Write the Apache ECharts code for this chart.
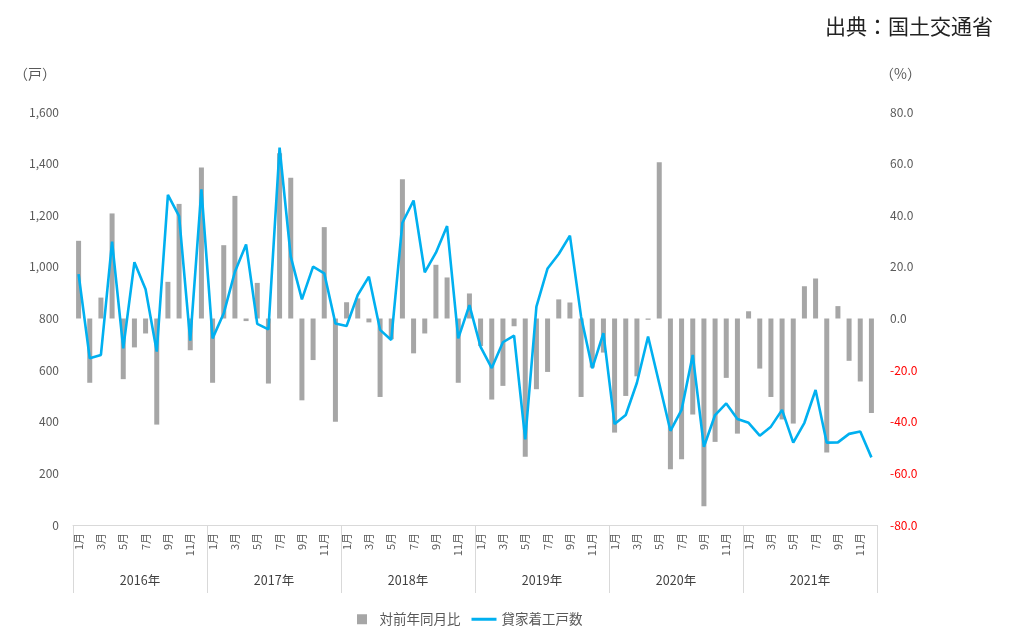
<!DOCTYPE html>
<html>
<head>
<meta charset="utf-8">
<script src="https://cdn.jsdelivr.net/npm/echarts@6/dist/echarts.min.js"></script>
<style>
html,body{margin:0;padding:0;background:#fff;}
#chart{width:1024px;height:636px;}
</style>
</head>
<body>
<div id="chart"></div>
<script>
var years = ['2016年','2017年','2018年','2019年','2020年','2021年'];
var monthNames = ['1月','2月','3月','4月','5月','6月','7月','8月','9月','10月','11月','12月'];

// 対前年同月比 (%)
var yoy2016 = [30.1, -24.9, 8.1, 40.7, -23.5, -11.2, -5.8, -41.1, 14.2, 44.4, -12.3, 58.5];
var yoy2017 = [-24.9, 28.4, 47.5, -1.0, 13.8, -25.2, 64.0, 54.5, -31.7, -16.1, 35.4, -40.0];
var yoy2018 = [6.3, 7.8, -1.5, -30.4, -8.0, 53.9, -13.5, -5.8, 20.8, 15.9, -24.9, 9.7];
var yoy2019 = [-10.7, -31.4, -26.1, -3.0, -53.6, -27.4, -20.7, 7.4, 6.2, -30.4, -19.0, -13.2];
var yoy2020 = [-44.2, -30.0, -22.4, -0.5, 60.5, -58.4, -54.5, -37.2, -72.7, -47.8, -23.0, -44.6];
var yoy2021 = [2.8, -19.4, -30.4, -39.1, -40.7, 12.5, 15.5, -51.9, 4.8, -16.4, -24.4, -36.6];

// 貸家着工戸数 (戸)
var units2016 = [972, 646, 659, 1098, 684, 1018, 913, 672, 1279, 1197, 714, 1300];
var units2017 = [723, 820, 981, 1087, 779, 758, 1462, 1040, 874, 1001, 975, 781];
var units2018 = [771, 891, 962, 756, 717, 1171, 1257, 979, 1055, 1158, 723, 852];
var units2019 = [690, 608, 708, 734, 332, 846, 994, 1050, 1121, 807, 607, 743];
var units2020 = [391, 426, 551, 730, 548, 365, 446, 659, 303, 426, 471, 411];
var units2021 = [396, 346, 381, 446, 319, 396, 523, 319, 320, 353, 362, 262];

var leftTicks = {min: 0, max: 1600, interval: 200};
var rightTicks = {min: -80, max: 80, interval: 20};

var categories = [];
years.forEach(function(y){ monthNames.forEach(function(m){ categories.push(y + m); }); });
var monthLabels = [];
years.forEach(function(){ monthNames.forEach(function(m){ monthLabels.push(m); }); });
var yoyData = [].concat(yoy2016, yoy2017, yoy2018, yoy2019, yoy2020, yoy2021);
var unitsData = [].concat(units2016, units2017, units2018, units2019, units2020, units2021);

var chart = echarts.init(document.getElementById('chart'));
var font = '"Noto Sans CJK JP", "Noto Sans", sans-serif';
chart.setOption({
  animation: false,
  textStyle: {fontFamily: font},
  title: {
    text: '出典：国土交通省',
    right: 26, top: 11,
    textStyle: {fontSize: 21, fontWeight: 'normal', color: '#222', fontFamily: font}
  },
  graphic: [
    {type: 'text', left: 14, top: 67, style: {text: '（戸）', fontSize: 14, fill: '#595959', fontFamily: font}},
    {type: 'text', left: 880, top: 67, style: {text: '（%）', fontSize: 14, fill: '#595959', fontFamily: font}}
  ],
  legend: {
    bottom: 5,
    left: 352,
    itemWidth: 25,
    itemHeight: 10,
    itemGap: 11,
    textStyle: {fontSize: 13.5, color: '#595959', fontFamily: font},
    data: [
      {name: '対前年同月比', icon: 'path://M0,0H10V10H0Z'},
      {name: '貸家着工戸数', icon: 'path://M0,0H25V3H0Z'}
    ]
  },
  grid: {left: 73, right: 147, top: 112, bottom: 111},
  xAxis: [
    {
      type: 'category',
      data: categories,
      position: 'bottom',
      boundaryGap: true,
      axisLine: {show: true, lineStyle: {color: '#d9d9d9', width: 1}},
      axisTick: {
        show: true,
        inside: false,
        length: 68,
        interval: function(i){ return i % 12 === 0; },
        lineStyle: {color: '#d9d9d9', width: 1}
      },
      axisLabel: {
        interval: 1,
        rotate: 90,
        margin: 8,
        fontSize: 11,
        color: '#595959',
        fontFamily: font,
        formatter: function(v, i){ return monthLabels[i]; }
      }
    },
    {
      type: 'category',
      data: years,
      position: 'bottom',
      boundaryGap: true,
      axisLine: {show: false},
      axisTick: {show: false},
      splitLine: {show: false},
      axisLabel: {margin: 49, fontSize: 12.5, color: '#404040', fontFamily: font}
    }
  ],
  yAxis: [
    {
      type: 'value',
      min: leftTicks.min, max: leftTicks.max, interval: leftTicks.interval,
      position: 'left',
      axisLine: {show: false},
      axisTick: {show: false},
      splitLine: {show: false},
      axisLabel: {
        margin: 14, fontSize: 12, color: '#595959', fontFamily: font,
        formatter: function(v){ return v.toLocaleString('en-US'); }
      }
    },
    {
      type: 'value',
      min: rightTicks.min, max: rightTicks.max, interval: rightTicks.interval,
      position: 'right',
      axisLine: {show: false},
      axisTick: {show: false},
      splitLine: {show: false},
      axisLabel: {
        margin: 13, fontSize: 12, fontFamily: font,
        formatter: function(v){ return v.toFixed(1); },
        color: function(v){ return Number(v) < 0 ? '#ff0000' : '#595959'; }
      }
    }
  ],
  series: [
    {
      name: '対前年同月比',
      type: 'bar',
      xAxisIndex: 0,
      yAxisIndex: 1,
      barWidth: 5,
      itemStyle: {color: '#a6a6a6'},
      data: yoyData
    },
    {
      name: '貸家着工戸数',
      type: 'line',
      xAxisIndex: 0,
      yAxisIndex: 0,
      symbol: 'none',
      lineStyle: {color: '#00b0f0', width: 2.6},
      itemStyle: {color: '#00b0f0'},
      data: unitsData
    }
  ]
});
</script>
</body>
</html>
